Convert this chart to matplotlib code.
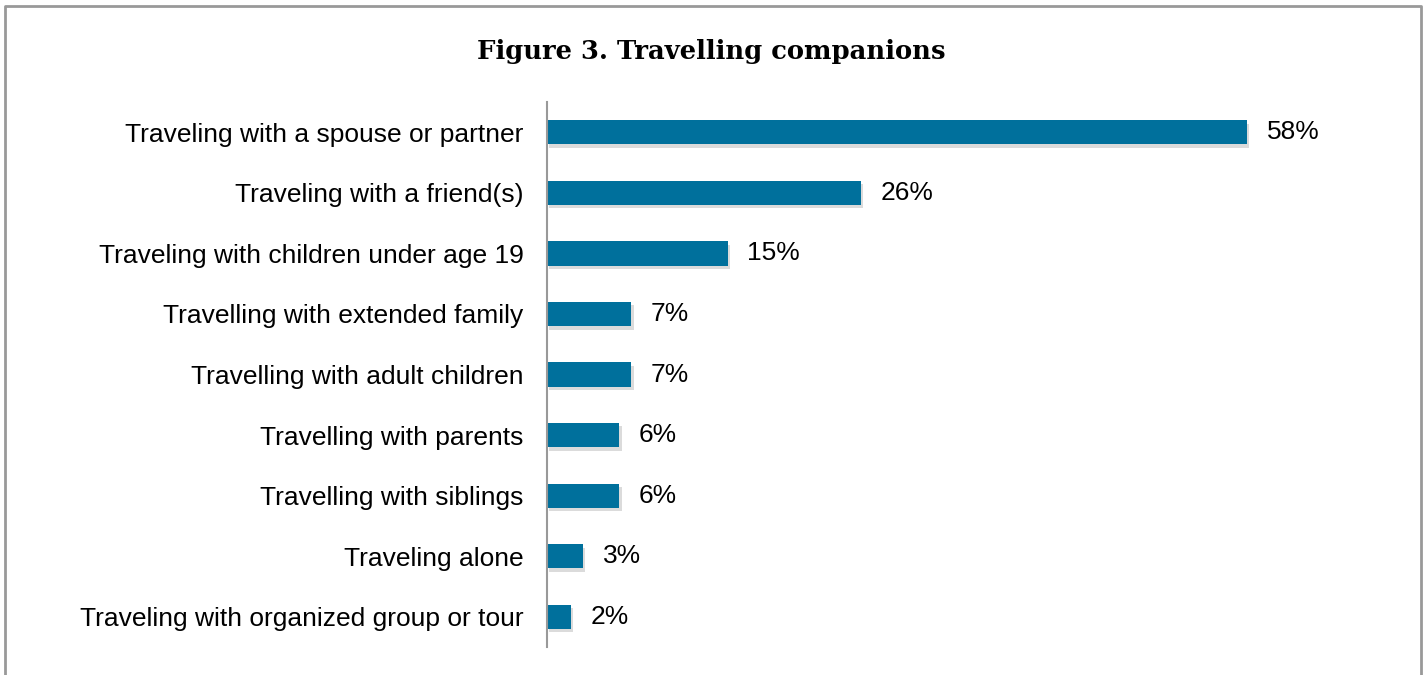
import matplotlib
matplotlib.use('Agg')
import matplotlib.pyplot as plt
import matplotlib.patheffects as pe
from matplotlib.lines import Line2D

# share of respondents by who they travel with
companions = [
    'Traveling with a spouse or partner',
    'Traveling with a friend(s)',
    'Traveling with children under age 19',
    'Travelling with extended family',
    'Travelling with adult children',
    'Travelling with parents',
    'Travelling with siblings',
    'Traveling alone',
    'Traveling with organized group or tour',
]
shares = [58, 26, 15, 7, 7, 6, 6, 3, 2]

bar_color = '#00709C'
frame_color = '#999999'

fig = plt.figure(figsize=(14.27, 6.75), dpi=100)
ax = fig.add_axes([547 / 1427, 28 / 675, (1421 - 547) / 1427, 545 / 675])

ypos = list(range(len(companions)))
bars = ax.barh(ypos, shares, height=0.4, color=bar_color,
               path_effects=[pe.SimplePatchShadow(offset=(1.5, -2.5), shadow_rgbFace='#999999', alpha=0.35),
                             pe.Normal()])

for b, v in zip(bars, shares):
    ax.annotate(f'{v}%', xy=(b.get_width(), b.get_y() + b.get_height() / 2),
                xytext=(14, 0), textcoords='offset points', va='center', ha='left',
                fontsize=19, family='Liberation Sans', color='black')

ax.set_xlim(0, 874 / 12.07)
ax.set_ylim(len(companions) - 0.5, -0.5)
ax.set_yticks(ypos)
ax.set_yticklabels(companions, fontsize=19, family='Liberation Sans')
ax.tick_params(axis='y', length=0, pad=17)
ax.set_xticks([])
for side in ['top', 'right', 'bottom']:
    ax.spines[side].set_visible(False)
ax.spines['left'].set_color(frame_color)
ax.spines['left'].set_linewidth(1.5)

fig.text(711 / 1427, 1 - 51 / 675, 'Figure 3. Travelling companions', ha='center', va='center',
         fontsize=18.6, fontweight='bold', family='DejaVu Serif')

# outer frame, open at the bottom
top = 1 - 5.5 / 675
left = 5 / 1427
right = 1421 / 1427
fig.add_artist(Line2D([left, left, right, right], [0, top, top, 0],
                      transform=fig.transFigure, color=frame_color, lw=2))

fig.savefig('out.png', dpi=100)
